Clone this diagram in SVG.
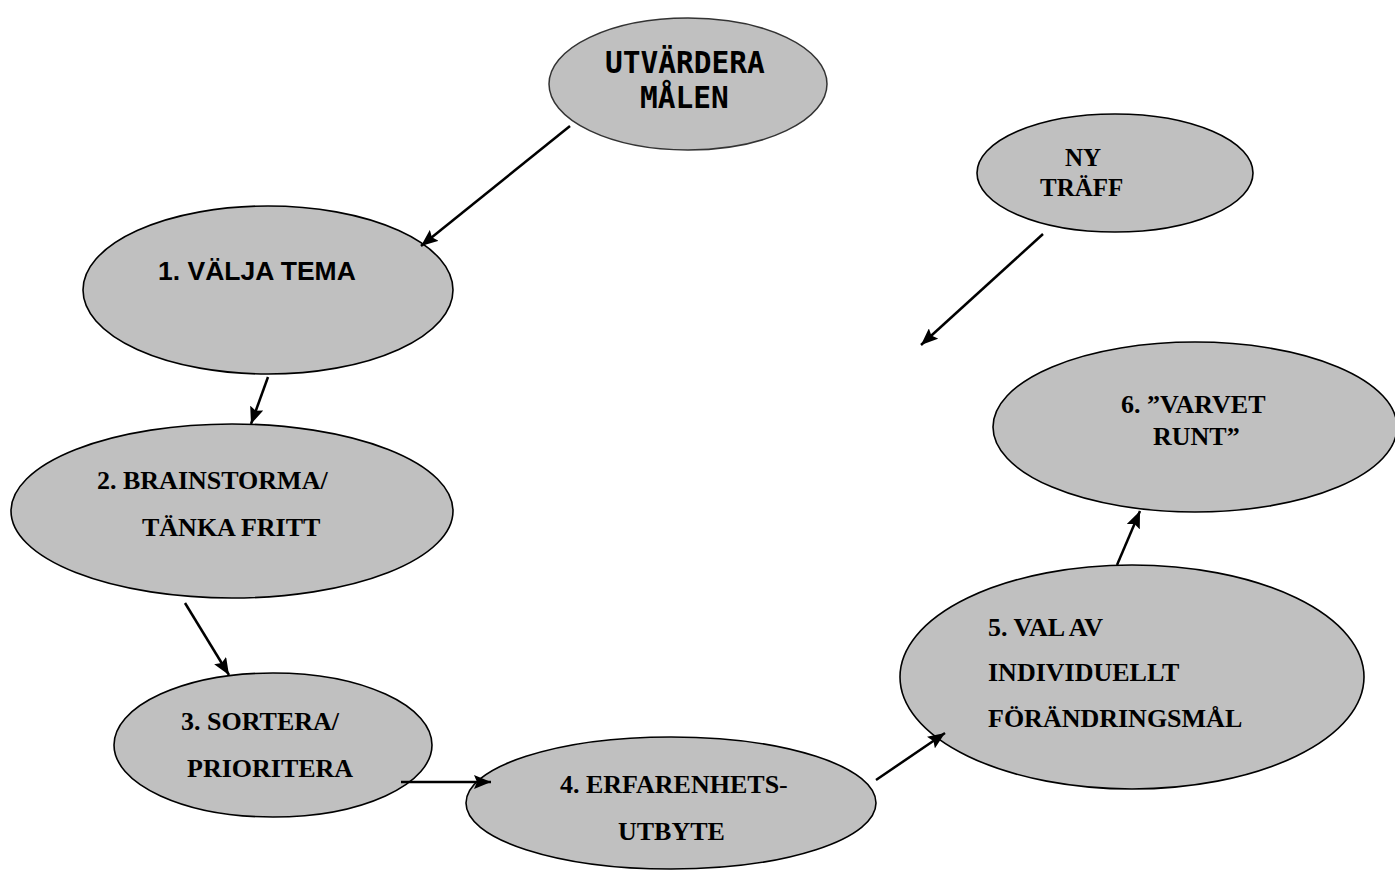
<svg xmlns="http://www.w3.org/2000/svg" width="1395" height="875" viewBox="0 0 1395 875">
<defs>
<marker id="ah" markerUnits="userSpaceOnUse" markerWidth="18" markerHeight="14" refX="17" refY="7" orient="auto">
<path d="M0,0 L17,7 L0,14 L3,7 z" fill="#000"/>
</marker>
<style>
.node ellipse{fill:#c0c0c0;stroke:#000;stroke-width:1.6}
.t{font-family:"Liberation Serif","Times New Roman",serif;font-weight:bold;font-size:26px;fill:#000}
.a{font-family:"Liberation Sans",Arial,sans-serif;font-weight:bold;font-size:26.5px;fill:#000}
.m{font-family:"DejaVu Sans Mono",monospace;font-weight:bold;font-size:29.5px;fill:#000}
#connectors line{stroke:#000;stroke-width:2.5;marker-end:url(#ah)}
</style>
</defs>
<rect width="1395" height="875" fill="#fff"/>
<g id="n0" class="node">
<ellipse cx="688" cy="84" rx="139" ry="66" style="stroke:#333;stroke-width:1.5"/>
<text class="m" x="605" y="73">UTVÄRDERA</text>
<text class="m" x="640" y="108">MÅLEN</text>
</g>
<g id="n1" class="node">
<ellipse cx="268" cy="290" rx="185" ry="84"/>
<text class="a" x="158" y="280">1. VÄLJA TEMA</text>
</g>
<g id="n2" class="node">
<ellipse cx="232" cy="511" rx="221" ry="87"/>
<text class="t" x="97" y="489">2. BRAINSTORMA/</text>
<text class="t" x="142" y="536">TÄNKA FRITT</text>
</g>
<g id="n3" class="node">
<ellipse cx="273" cy="745" rx="159" ry="72"/>
<text class="t" x="181" y="730">3. SORTERA/</text>
<text class="t" x="187" y="777">PRIORITERA</text>
</g>
<g id="n4" class="node">
<ellipse cx="671" cy="803" rx="205" ry="66"/>
<text class="t" x="560" y="793">4. ERFARENHETS<tspan font-weight="normal">-</tspan></text>
<text class="t" x="618" y="840">UTBYTE</text>
</g>
<g id="n5" class="node">
<ellipse cx="1132" cy="677" rx="232" ry="112"/>
<text class="t" x="988" y="636">5. VAL AV</text>
<text class="t" x="988" y="681">INDIVIDUELLT</text>
<text class="t" x="988" y="727">FÖRÄNDRINGSMÅL</text>
</g>
<g id="n6" class="node">
<ellipse cx="1195" cy="427" rx="202" ry="85"/>
<text class="t" x="1121" y="413">6. ”VARVET</text>
<text class="t" x="1153" y="445">RUNT”</text>
</g>
<g id="n7" class="node">
<ellipse cx="1115" cy="173" rx="138" ry="59"/>
<text class="t" x="1065" y="166" style="font-size:25px">NY</text>
<text class="t" x="1040" y="196" style="font-size:25px">TRÄFF</text>
</g>
<g id="connectors">
<line x1="570" y1="126" x2="421" y2="246"/>
<line x1="268" y1="377" x2="251" y2="424"/>
<line x1="185" y1="603" x2="229" y2="675"/>
<line x1="401" y1="782" x2="491" y2="782"/>
<line x1="876" y1="780" x2="945" y2="733"/>
<line x1="1117" y1="565" x2="1140" y2="511"/>
<line x1="1043" y1="234" x2="921" y2="345"/>
</g>
</svg>
